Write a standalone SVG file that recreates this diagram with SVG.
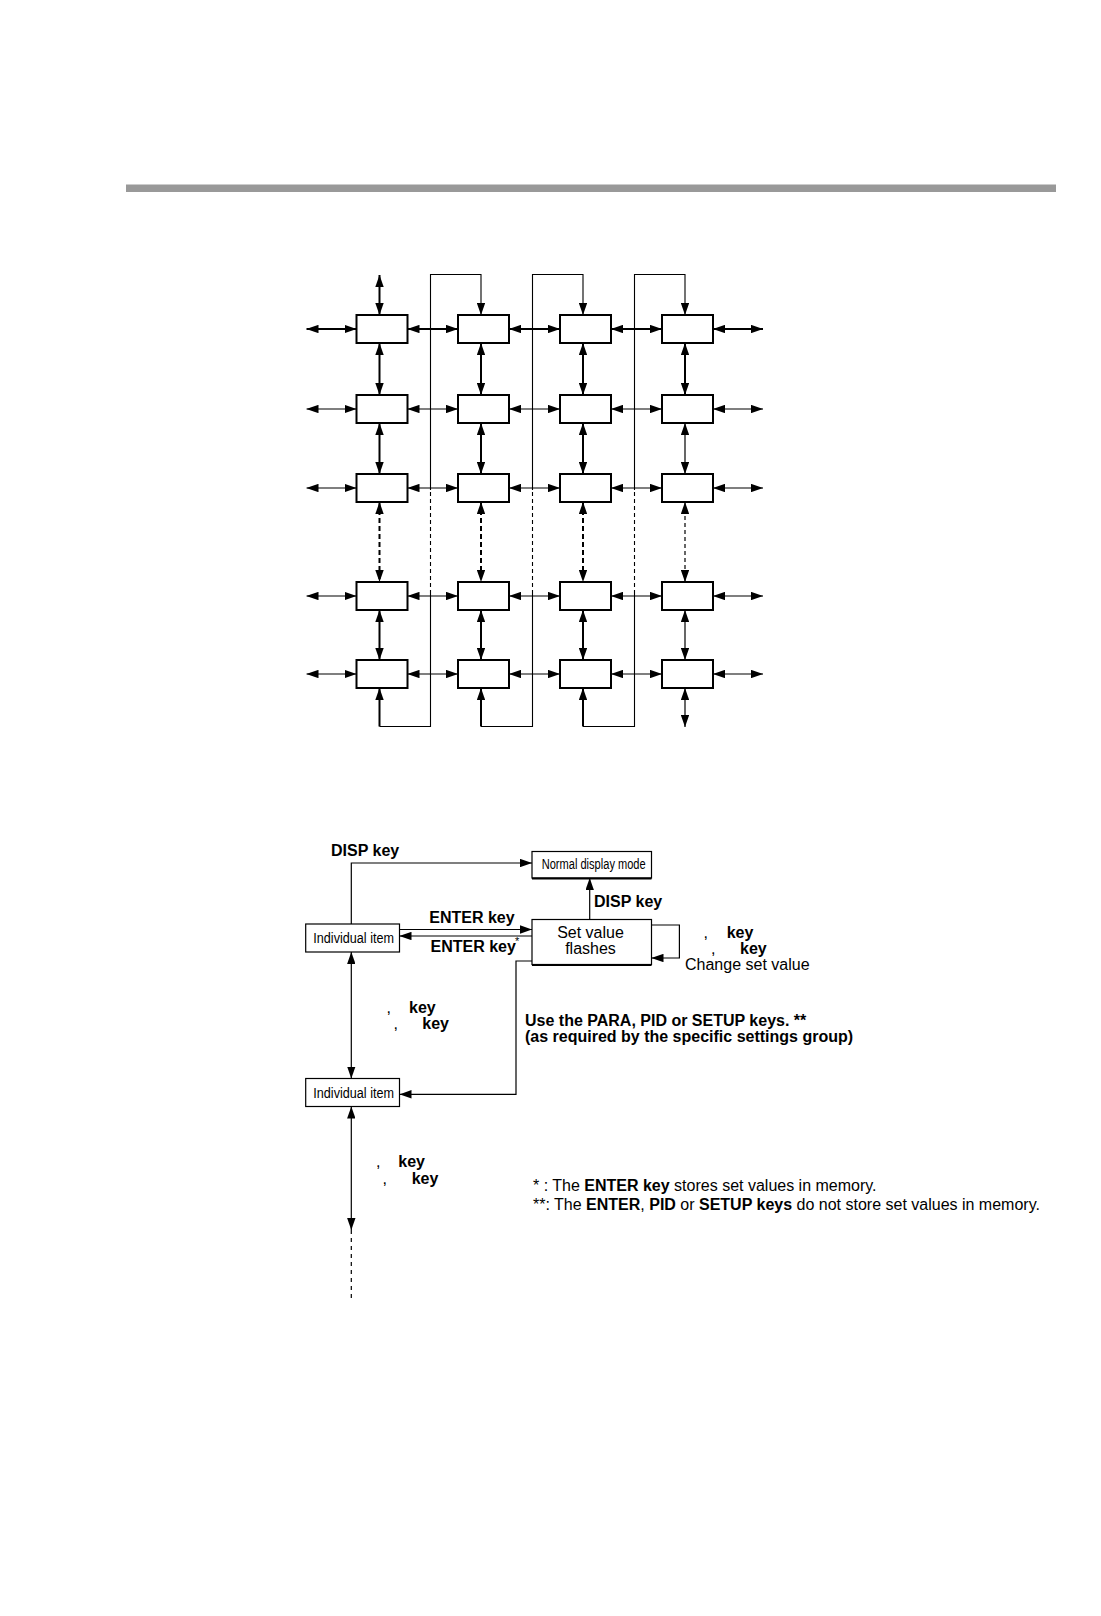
<svg xmlns="http://www.w3.org/2000/svg" width="1101" height="1616" viewBox="0 0 1101 1616">
<style>
.bx{fill:#fff;stroke:#000;stroke-width:2}
.fb{fill:#fff;stroke:#000;stroke-width:1.2}
.c{fill:none;stroke:#000;stroke-width:1.2}
.k{fill:none;stroke:#000;stroke-width:2}
.ln{fill:none;stroke:#000;stroke-width:1.1}
.d{stroke-dasharray:5 3}
.dt{stroke-dasharray:4 3}
text{font-family:"Liberation Sans",Arial,Helvetica,sans-serif;fill:#000}
.b{font-weight:bold;font-size:16px}
.r{font-size:16px}
.n{font-size:14px}
</style>
<defs>
<marker id="ah" markerUnits="userSpaceOnUse" markerWidth="12" markerHeight="8.4" refX="10" refY="3.5" orient="auto-start-reverse" viewBox="0 0 10 7">
<path d="M0,0 L10,3.5 L0,7 z" fill="#000"/>
</marker>
</defs>
<rect x="126" y="184.5" width="930" height="7.5" fill="#999"/>
<g id="connectors">
<g marker-start="url(#ah)" marker-end="url(#ah)">
<path class="k" d="M306.5,329 H356.5"/>
<path class="k" d="M407.5,329 H458"/>
<path class="k" d="M509,329 H560"/>
<path class="k" d="M611,329 H662"/>
<path class="k" d="M713,329 H763"/>
<path class="c" d="M306.5,409 H356.5"/><path class="c" d="M407.5,409 H458"/><path class="c" d="M509,409 H560"/><path class="c" d="M611,409 H662"/><path class="c" d="M713,409 H763"/>
<path class="c" d="M306.5,488 H356.5"/><path class="c" d="M407.5,488 H458"/><path class="c" d="M509,488 H560"/><path class="c" d="M611,488 H662"/><path class="c" d="M713,488 H763"/>
<path class="c" d="M306.5,596 H356.5"/><path class="c" d="M407.5,596 H458"/><path class="c" d="M509,596 H560"/><path class="c" d="M611,596 H662"/><path class="c" d="M713,596 H763"/>
<path class="c" d="M306.5,674 H356.5"/><path class="c" d="M407.5,674 H458"/><path class="c" d="M509,674 H560"/><path class="c" d="M611,674 H662"/><path class="c" d="M713,674 H763"/>
<path class="k" d="M379.5,315 V275"/>
<path class="k" d="M379.5,343 V395"/><path class="k" d="M481,343 V395"/><path class="k" d="M583,343 V395"/><path class="k" d="M685,343 V395"/>
<path class="k" d="M379.5,423 V474"/><path class="k" d="M481,423 V474"/><path class="k" d="M583,423 V474"/><path class="c" d="M685,423 V474"/>
<path class="k d" d="M379.5,502 V582"/><path class="k d" d="M481,502 V582"/><path class="k d" d="M583,502 V582"/><path class="c dt" d="M685,502 V582"/>
<path class="k" d="M379.5,610 V660"/><path class="k" d="M481,610 V660"/><path class="k" d="M583,610 V660"/><path class="c" d="M685,610 V660"/>
<path class="c" d="M685,688 V727"/>
</g>
<path class="k" d="M379.5,726.5 V688" marker-end="url(#ah)"/>
<path class="ln" d="M379.5,726.5 H430.5 V594"/>
<path class="ln dt" d="M430.5,594 V490"/>
<path class="ln" d="M430.5,490 V274.5 H481 V315" marker-end="url(#ah)"/>
<path class="k" d="M481,726.5 V688" marker-end="url(#ah)"/>
<path class="ln" d="M481,726.5 H532.5 V594"/>
<path class="ln dt" d="M532.5,594 V490"/>
<path class="ln" d="M532.5,490 V274.5 H583 V315" marker-end="url(#ah)"/>
<path class="k" d="M583,726.5 V688" marker-end="url(#ah)"/>
<path class="ln" d="M583,726.5 H634.5 V594"/>
<path class="ln dt" d="M634.5,594 V490"/>
<path class="ln" d="M634.5,490 V274.5 H685 V315" marker-end="url(#ah)"/>
<path class="c" d="M351.3,924 V863 H532" marker-end="url(#ah)"/>
<path class="c" d="M589.7,919.5 V878" marker-end="url(#ah)"/>
<path class="c" d="M399.5,929.5 H532" marker-end="url(#ah)"/>
<path class="c" d="M532,936 H399.5" marker-end="url(#ah)"/>
<path class="c" d="M651.5,925 H679.4 V958 H651.5" marker-end="url(#ah)"/>
<path class="c" d="M532,961 H516 V1094.3 H399.5" marker-end="url(#ah)"/>
<path class="c" d="M351.3,952 V1078.5" marker-start="url(#ah)" marker-end="url(#ah)"/>
<path class="c" d="M351.3,1106.5 V1230" marker-start="url(#ah)" marker-end="url(#ah)"/>
<path class="c" d="M351.3,1230 V1302" stroke-dasharray="4 4"/>
</g>
<g id="grid-nodes">
<rect id="n11" class="bx" x="356.5" y="315" width="51" height="28"/>
<rect id="n12" class="bx" x="458" y="315" width="51" height="28"/>
<rect id="n13" class="bx" x="560" y="315" width="51" height="28"/>
<rect id="n14" class="bx" x="662" y="315" width="51" height="28"/>
<rect id="n21" class="bx" x="356.5" y="395" width="51" height="28"/>
<rect id="n22" class="bx" x="458" y="395" width="51" height="28"/>
<rect id="n23" class="bx" x="560" y="395" width="51" height="28"/>
<rect id="n24" class="bx" x="662" y="395" width="51" height="28"/>
<rect id="n31" class="bx" x="356.5" y="474" width="51" height="28"/>
<rect id="n32" class="bx" x="458" y="474" width="51" height="28"/>
<rect id="n33" class="bx" x="560" y="474" width="51" height="28"/>
<rect id="n34" class="bx" x="662" y="474" width="51" height="28"/>
<rect id="n41" class="bx" x="356.5" y="582" width="51" height="28"/>
<rect id="n42" class="bx" x="458" y="582" width="51" height="28"/>
<rect id="n43" class="bx" x="560" y="582" width="51" height="28"/>
<rect id="n44" class="bx" x="662" y="582" width="51" height="28"/>
<rect id="n51" class="bx" x="356.5" y="660" width="51" height="28"/>
<rect id="n52" class="bx" x="458" y="660" width="51" height="28"/>
<rect id="n53" class="bx" x="560" y="660" width="51" height="28"/>
<rect id="n54" class="bx" x="662" y="660" width="51" height="28"/>
</g>
<g id="normal-display">
<rect class="fb" x="532" y="851.5" width="119.5" height="26.5"/>
<line x1="532" y1="878.5" x2="651.5" y2="878.5" stroke="#000" stroke-width="2"/>
<text class="n" x="541.7" y="869" textLength="104" lengthAdjust="spacingAndGlyphs">Normal display mode</text>
</g>
<g id="set-value">
<rect class="fb" x="532" y="919.5" width="119.5" height="45"/>
<line x1="532" y1="965" x2="651.5" y2="965" stroke="#000" stroke-width="2"/>
<text class="r" x="590.5" y="938" text-anchor="middle">Set value</text>
<text class="r" x="590.5" y="954" text-anchor="middle">flashes</text>
</g>
<g id="item-1">
<rect class="fb" x="305.7" y="924" width="93.8" height="28"/>
<text class="n" x="313.3" y="943" textLength="80.7" lengthAdjust="spacingAndGlyphs">Individual item</text>
</g>
<g id="item-2">
<rect class="fb" x="305.7" y="1078.5" width="93.8" height="28"/>
<text class="n" x="313.3" y="1097.7" textLength="80.7" lengthAdjust="spacingAndGlyphs">Individual item</text>
</g>
<g id="labels">
<text class="b" x="331" y="856">DISP key</text>
<text class="b" x="594" y="906.5">DISP key</text>
<text class="b" x="429.3" y="923">ENTER key</text>
<text class="b" x="430.5" y="952">ENTER key</text>
<text x="515" y="945" font-size="11">*</text>
<text class="r" x="703.5" y="938">,</text><text class="b" x="726.7" y="938">key</text>
<text class="r" x="711" y="954">,</text><text class="b" x="740" y="954">key</text>
<text class="r" x="685" y="970">Change set value</text>
<text class="r" x="386.5" y="1012.5">,</text><text class="b" x="409" y="1012.5">key</text>
<text class="r" x="393.5" y="1029">,</text><text class="b" x="422.3" y="1029">key</text>
<text class="r" x="376" y="1167">,</text><text class="b" x="398.3" y="1167">key</text>
<text class="r" x="382.5" y="1183.5">,</text><text class="b" x="411.7" y="1183.5">key</text>
<text class="b" x="525" y="1025.5">Use the PARA, PID or SETUP keys. **</text>
<text class="b" x="525" y="1041.5">(as required by the specific settings group)</text>
<text class="r" x="533" y="1191">* : The <tspan font-weight="bold">ENTER key</tspan> stores set values in memory.</text>
<text class="r" x="533" y="1209.5">**: The <tspan font-weight="bold">ENTER</tspan>, <tspan font-weight="bold">PID</tspan> or <tspan font-weight="bold">SETUP keys</tspan> do not store set values in memory.</text>
</g>
</svg>
